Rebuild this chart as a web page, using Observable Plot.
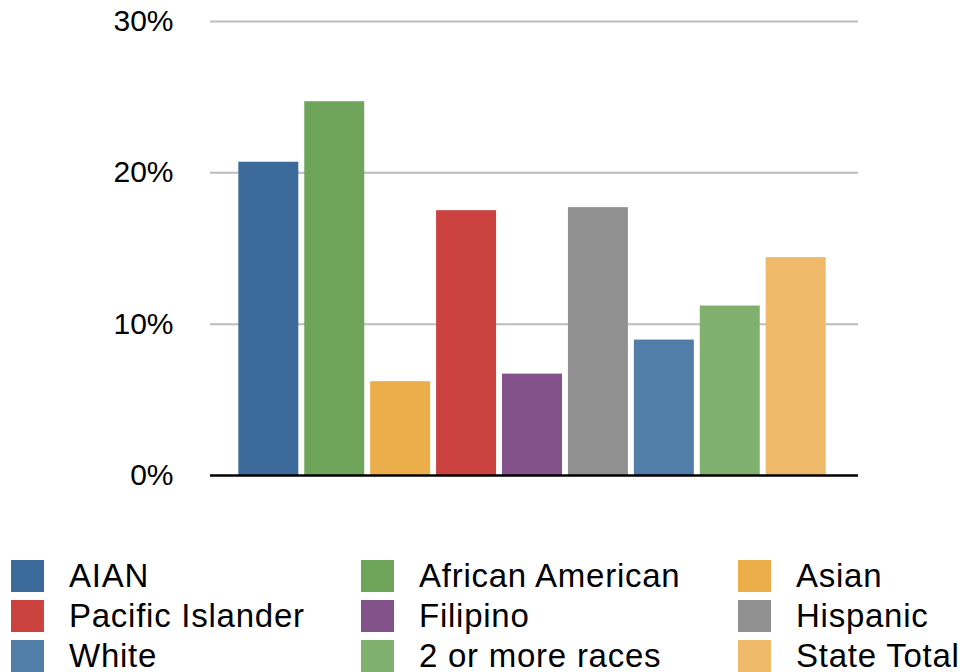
<!DOCTYPE html>
<html>
<head>
<meta charset="utf-8">
<script src="https://cdn.jsdelivr.net/npm/d3@7"></script>
<script src="https://cdn.jsdelivr.net/npm/@observablehq/plot@0.6"></script>
<style>
  html, body { margin: 0; padding: 0; background: #fff; }
  body { width: 964px; height: 672px; overflow: hidden; font-family: Helvetica, "Liberation Sans", Arial, sans-serif; }
  #legend {
    display: grid;
    grid-template-columns: 350px 377px auto;
    grid-auto-rows: 40px;
    padding-left: 11px;
    margin-top: 60px;
  }
  .item { display: flex; align-items: flex-start; }
  .sw { width: 33px; height: 32px; flex: none; margin-right: 25px; }
  .lab { font-size: 33px; line-height: 32px; letter-spacing: 0.75px; color: #000; white-space: nowrap; }
</style>
</head>
<body>
<div id="chart"></div>
<div id="legend"></div>
<script>
const categories = ["AIAN", "African American", "Asian", "Pacific Islander", "Filipino", "Hispanic", "White", "2 or more races", "State Total"];
const values = [20.7, 24.7, 6.2, 17.5, 6.7, 17.7, 8.95, 11.2, 14.4];
const colors = ["#3b6a9b", "#6ea55a", "#ebae4a", "#cb423f", "#83528b", "#8f908f", "#507ea9", "#80b06e", "#eeb968"];
const yTicks = [0, 10, 20, 30];

const data = categories.map((c, i) => ({category: c, value: values[i]}));

const chart = Plot.plot({
  width: 964,
  height: 500,
  marginLeft: 210,
  marginRight: 106,
  marginTop: 21,
  marginBottom: 25,
  style: {fontFamily: 'Helvetica, "Liberation Sans", Arial, sans-serif', color: "#000", background: "#fff"},
  x: {domain: categories, range: [208, 856], paddingInner: 0.09, paddingOuter: 0.46, round: false, axis: null},
  y: {domain: [0, 30]},
  color: {domain: categories, range: colors},
  marks: [
    Plot.gridY(yTicks.filter(d => d > 0), {stroke: "#bdbdbd", strokeOpacity: 1, strokeWidth: 2}),
    Plot.barY(data, {x: "category", y: "value", fill: "category"}),
    Plot.ruleY([0], {stroke: "#000", strokeWidth: 2.5}),
    Plot.axisY({ticks: yTicks, tickFormat: d => d + "%", tickSize: 0, tickPadding: 37, fontSize: 30, label: null})
  ]
});
document.getElementById("chart").appendChild(chart);

const legend = document.getElementById("legend");
categories.forEach((c, i) => {
  const item = document.createElement("div");
  item.className = "item";
  const sw = document.createElement("div");
  sw.className = "sw";
  sw.style.background = colors[i];
  const lab = document.createElement("div");
  lab.className = "lab";
  lab.textContent = c;
  item.appendChild(sw);
  item.appendChild(lab);
  legend.appendChild(item);
});
</script>
</body>
</html>
